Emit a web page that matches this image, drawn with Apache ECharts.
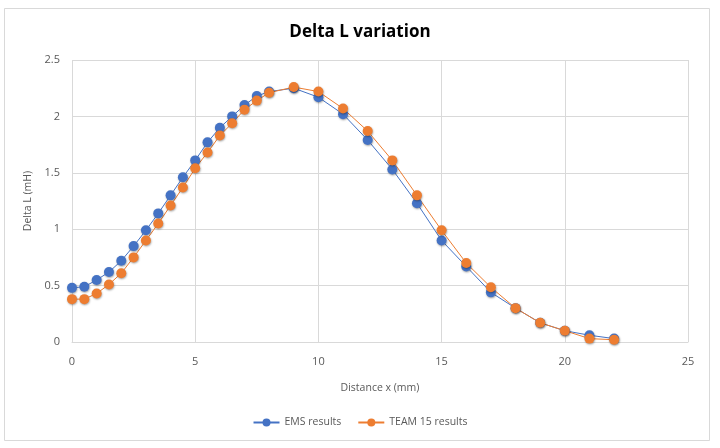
<!DOCTYPE html>
<html>
<head>
<meta charset="utf-8">
<script src="https://cdn.jsdelivr.net/npm/echarts@6/dist/echarts.min.js"></script>
<style>
html,body{margin:0;padding:0;background:#fff;}
#chart{width:720px;height:448px;}
</style>
</head>
<body>
<div id="chart"></div>
<script>
const xValues = [0,0.5,1,1.5,2,2.5,3,3.5,4,4.5,5,5.5,6,6.5,7,7.5,8,9,10,11,12,13,14,15,16,17,18,19,20,21,22];
const emsValues = [0.48,0.49,0.55,0.62,0.72,0.85,0.99,1.14,1.30,1.46,1.61,1.77,1.90,2.00,2.10,2.18,2.22,2.25,2.17,2.02,1.79,1.53,1.23,0.90,0.67,0.44,0.30,0.17,0.10,0.06,0.03];
const teamValues = [0.38,0.38,0.43,0.51,0.61,0.75,0.90,1.05,1.21,1.37,1.54,1.68,1.83,1.94,2.06,2.14,2.21,2.26,2.22,2.07,1.87,1.61,1.30,0.99,0.70,0.485,0.30,0.17,0.10,0.03,0.02];
const seriesNames = ['EMS results','TEAM 15 results'];
const xTicks = [0,5,10,15,20,25];
const yTicks = [0,0.5,1,1.5,2,2.5];

const pair = (xs, ys) => xs.map((x,i)=>[x, ys[i]]);
const font = 'Open Sans, Noto Sans, sans-serif';
const labelColor = '#595959';
const gridColor = '#d9d9d9';

const chart = echarts.init(document.getElementById('chart'), null, {renderer:'canvas'});
const mk = (name, data, color) => ({
  name, type:'line', data,
  symbol:'circle', symbolSize:10,
  lineStyle:{color, width:1},
  itemStyle:{color, shadowBlur:2, shadowColor:'rgba(0,0,0,0.35)', shadowOffsetX:0.5, shadowOffsetY:1},
  emphasis:{disabled:true},
  animation:false
});
chart.setOption({
  animation:false,
  backgroundColor:'#fff',
  graphic:[{type:'rect', shape:{x:4.5,y:8.5,width:705,height:432}, style:{fill:'none', stroke:gridColor, lineWidth:1}, silent:true}],
  title:{text:'Delta L variation', left:'center', top:19,
    textStyle:{fontFamily:font, fontSize:17, fontWeight:'bold', color:'#000'}},
  grid:{left:72, right:32, top:60, bottom:106, containLabel:false},
  xAxis:{type:'value', min:xTicks[0], max:xTicks[xTicks.length-1], interval:5,
    name:'Distance x (mm)', nameLocation:'middle', nameGap:41,
    nameTextStyle:{fontFamily:font, fontSize:10.5, color:labelColor},
    axisLine:{show:true, lineStyle:{color:gridColor}},
    axisTick:{show:false},
    axisLabel:{fontFamily:font, fontSize:11, color:labelColor, margin:14},
    splitLine:{show:true, lineStyle:{color:gridColor}}},
  yAxis:{type:'value', min:yTicks[0], max:yTicks[yTicks.length-1], interval:0.5,
    name:'Delta L (mH)', nameLocation:'middle', nameGap:38, nameRotate:90,
    nameTextStyle:{fontFamily:font, fontSize:10.5, color:labelColor},
    axisLine:{show:false},
    axisTick:{show:false},
    axisLabel:{fontFamily:font, fontSize:11, color:labelColor, margin:12},
    splitLine:{show:true, lineStyle:{color:gridColor}}},
  legend:{data:seriesNames, bottom:15, left:'center', itemGap:16, itemWidth:26, itemHeight:10,
    textStyle:{fontFamily:font, fontSize:10.5, color:labelColor}},
  series:[
    mk(seriesNames[0], pair(xValues, emsValues), '#4472C4'),
    mk(seriesNames[1], pair(xValues, teamValues), '#ED7D31')
  ]
});
</script>
</body>
</html>
